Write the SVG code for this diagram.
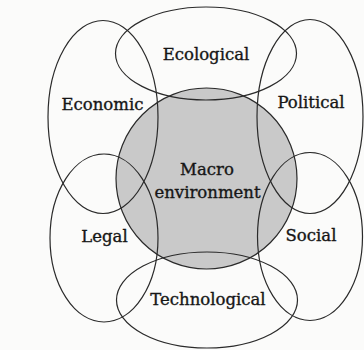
<svg xmlns="http://www.w3.org/2000/svg" width="364" height="350" viewBox="0 0 364 350">
  <style>
    .bg { fill: #fbfbfa; }
    .ring { fill: none; stroke: #2a2a2a; stroke-width: 1.2; }
    .core { fill: #c9c9c9; stroke: #2a2a2a; stroke-width: 1.2; }
    .lbl { font-family: "DejaVu Serif", "Liberation Serif", serif; font-size: 16.5px; fill: #161616; stroke: #161616; stroke-width: 0.35; text-anchor: middle; }
  </style>
  <rect class="bg" x="0" y="0" width="364" height="350"/>
  <g id="macro-environment">
    <circle class="core" cx="206.5" cy="178.5" r="90.5"/>
  </g>
  <g id="ecological">
    <ellipse class="ring" cx="206" cy="53.5" rx="90.5" ry="46.5"/>
    <text class="lbl" x="206" y="60">Ecological</text>
  </g>
  <g id="economic">
    <ellipse class="ring" cx="103" cy="117" rx="55" ry="96.5"/>
    <text class="lbl" x="102.5" y="110">Economic</text>
  </g>
  <g id="political">
    <ellipse class="ring" cx="310" cy="116.5" rx="53" ry="97"/>
    <text class="lbl" x="311" y="108">Political</text>
  </g>
  <g id="legal">
    <ellipse class="ring" cx="104" cy="238" rx="54" ry="84"/>
    <text class="lbl" x="104.5" y="242">Legal</text>
  </g>
  <g id="social">
    <ellipse class="ring" cx="310" cy="236.5" rx="52.5" ry="84"/>
    <text class="lbl" x="311" y="241">Social</text>
  </g>
  <g id="technological">
    <ellipse class="ring" cx="207" cy="300" rx="90.5" ry="48"/>
    <text class="lbl" x="208" y="305">Technological</text>
  </g>
  <g id="macro-label">
    <text class="lbl" x="207" y="175">Macro</text>
    <text class="lbl" x="207.5" y="198">environment</text>
  </g>
  <g id="connectors"/>
</svg>
